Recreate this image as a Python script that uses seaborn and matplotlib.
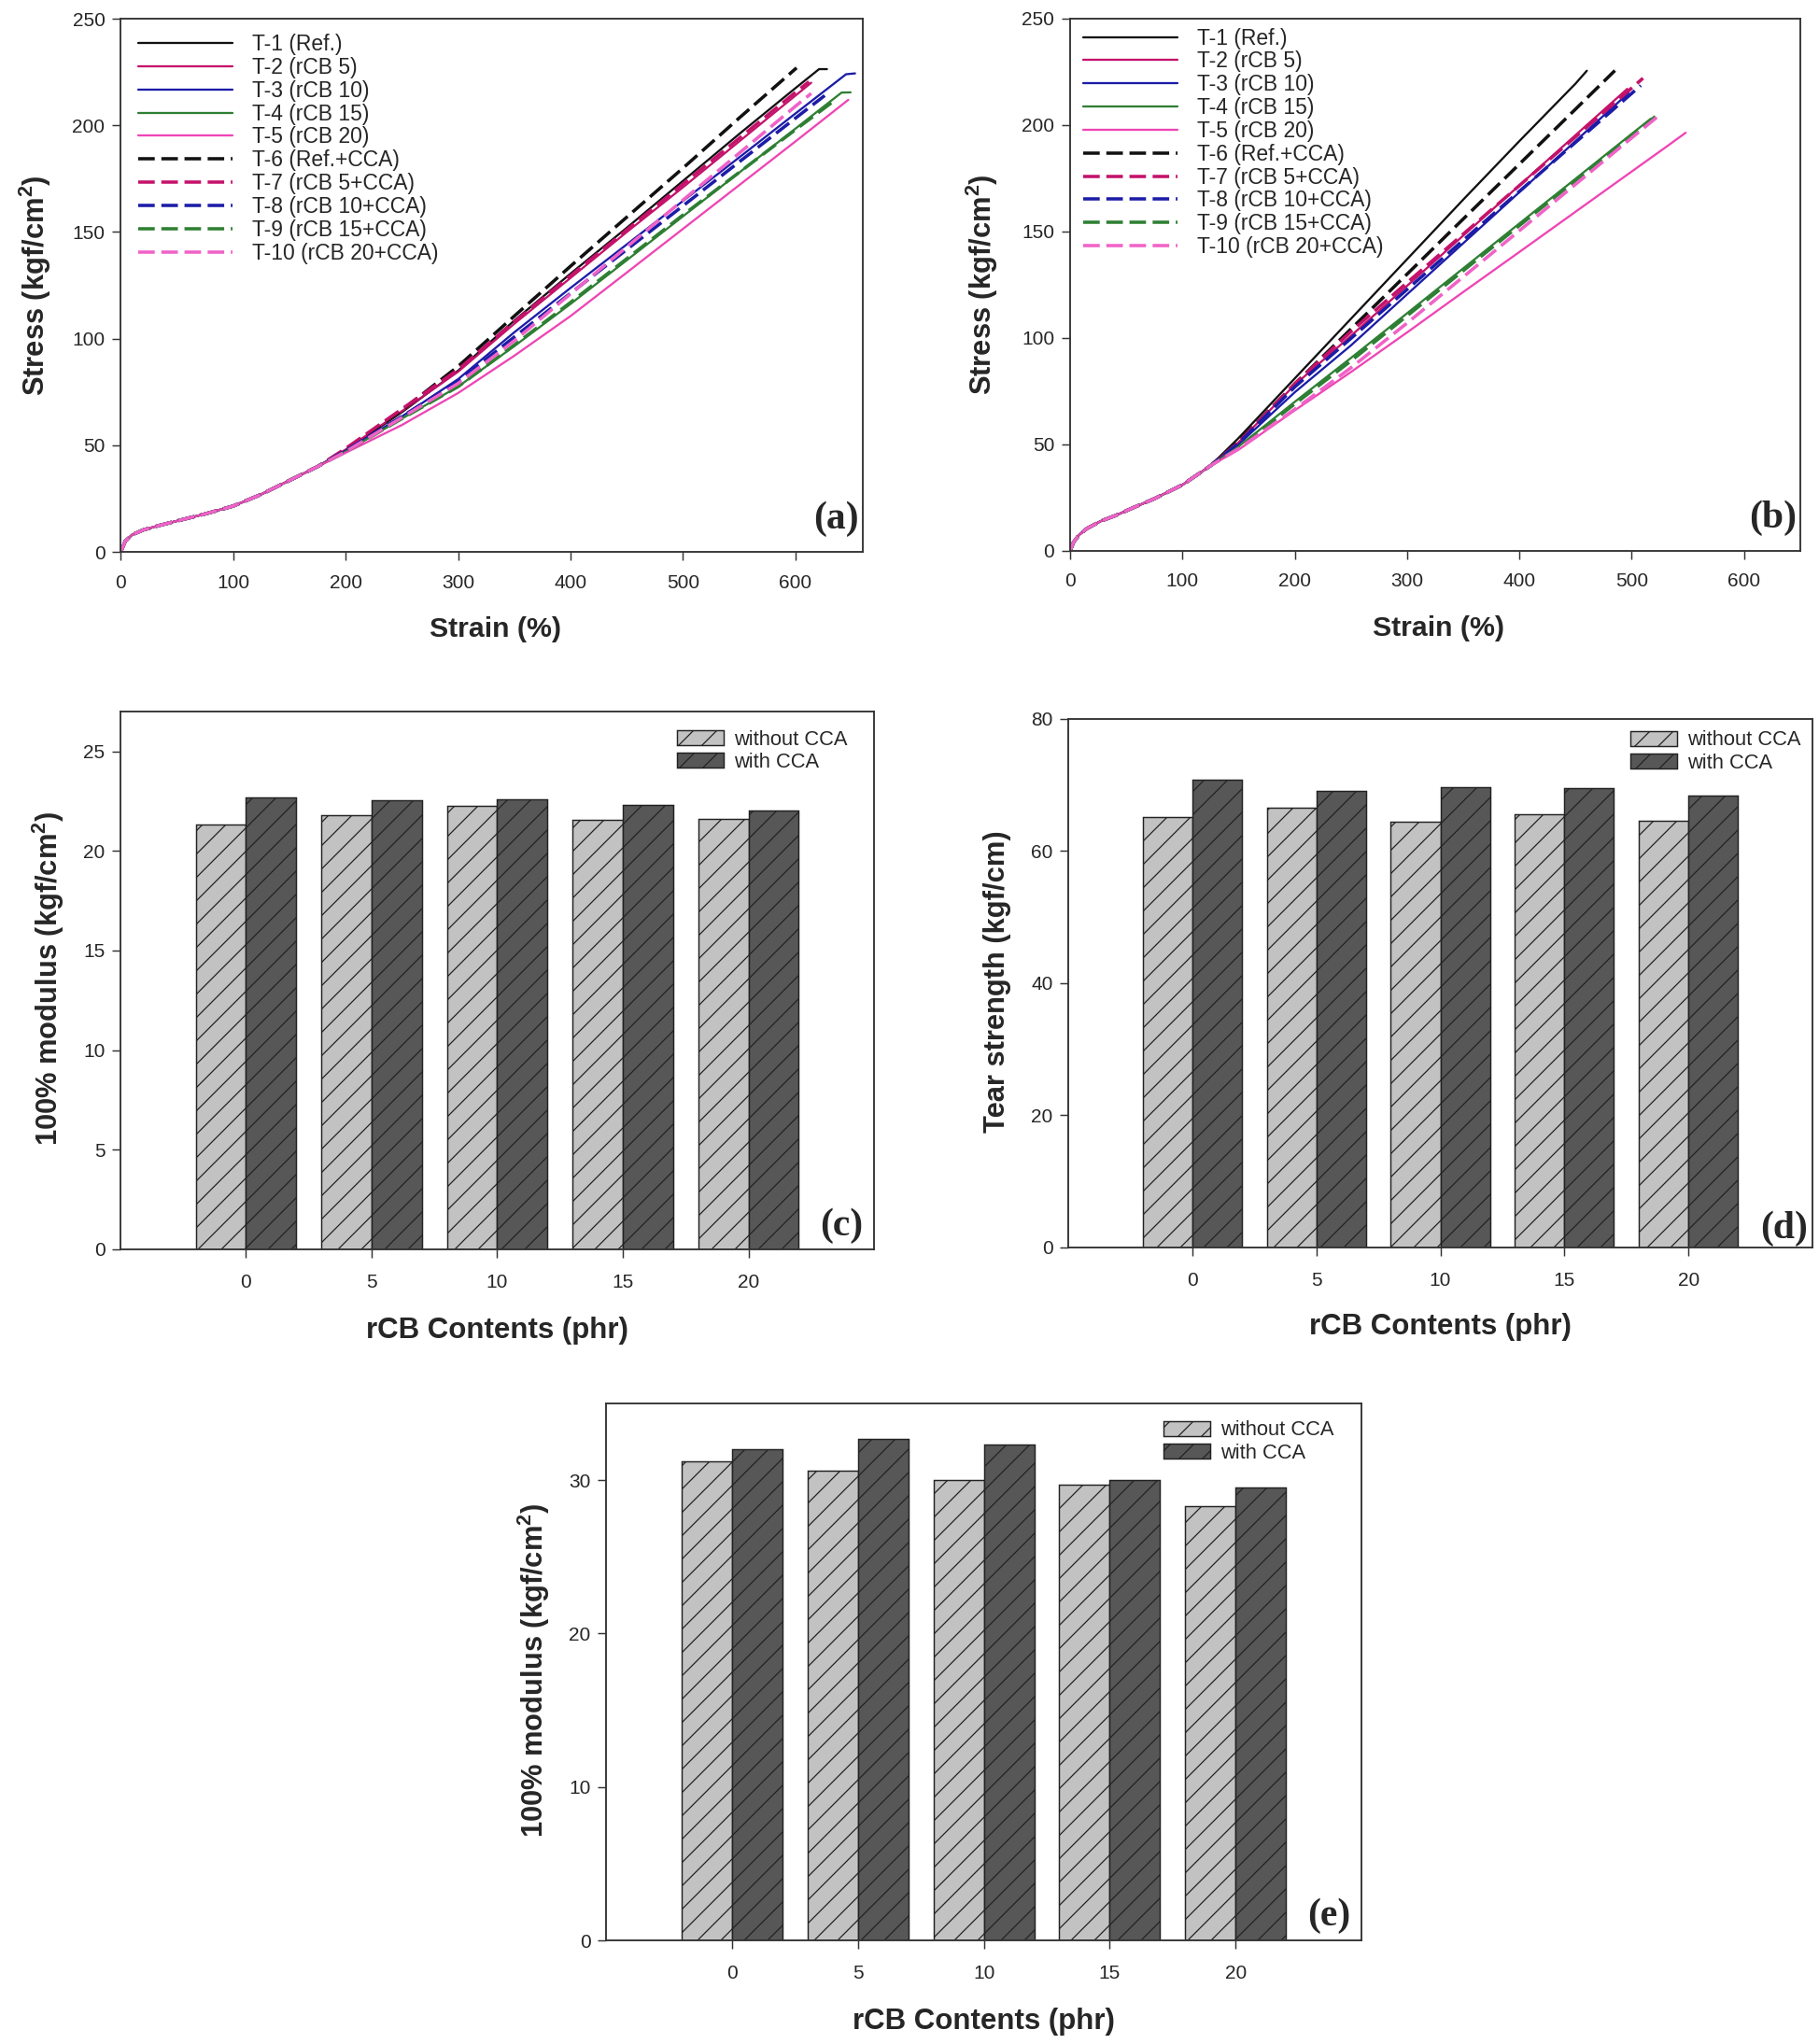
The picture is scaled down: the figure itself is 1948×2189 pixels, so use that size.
import numpy as np
import pandas as pd
import seaborn as sns
import matplotlib.pyplot as plt
from matplotlib.patches import Patch

# ---------------- data: stress-strain curves (a) ----------------
a_base_strain = [0, 4, 10, 20, 35, 50, 75, 100, 125, 150, 175]
a_base_stress = [0, 5, 8, 10.3, 12.5, 14.5, 17.8, 21.5, 27, 33.5, 40]

a_t1_strain = [200, 250, 300, 350, 400, 450, 500, 550, 600, 621, 628]
a_t1_stress = [47.5, 65.5, 85, 108.5, 130.5, 152, 174, 196, 217.5, 226.4, 226.4]
a_t2_strain = [200, 250, 300, 350, 400, 450, 500, 550, 600, 614]
a_t2_stress = [48, 66, 84.5, 107, 128.5, 150, 171, 192.5, 214, 220]
a_t3_strain = [200, 250, 300, 350, 400, 450, 500, 550, 600, 645, 653]
a_t3_stress = [47.5, 63.5, 81, 103, 123.8, 144.2, 164.6, 185, 205.6, 224, 224.4]
a_t4_strain = [200, 250, 300, 350, 400, 450, 500, 550, 600, 641, 649]
a_t4_stress = [47, 62.5, 77.5, 96.5, 116.3, 136.8, 157.4, 177.9, 198.5, 215.4, 215.5]
a_t5_strain = [200, 250, 300, 350, 400, 450, 500, 550, 600, 647]
a_t5_stress = [46.5, 59.5, 74.5, 92, 110.6, 131, 151.5, 172, 192.5, 212]
a_t6_strain = [200, 250, 300, 350, 400, 450, 500, 550, 601]
a_t6_stress = [48, 66.5, 87, 110.6, 134, 157, 180, 203.5, 227]
a_t7_strain = [200, 250, 300, 350, 400, 450, 500, 550, 600, 612]
a_t7_stress = [48.5, 67, 85.5, 108, 129.5, 151, 172.5, 194, 215.5, 220.5]
a_t8_strain = [200, 250, 300, 350, 400, 450, 500, 550, 600, 626]
a_t8_stress = [47.5, 63.5, 80, 100.8, 121.3, 141.8, 162.3, 182.9, 203.4, 214]
a_t9_strain = [200, 250, 300, 350, 400, 450, 500, 550, 600, 633]
a_t9_stress = [47, 62.5, 77.5, 97, 117, 137.5, 158, 178, 198, 211]
a_t10_strain = [200, 250, 300, 350, 400, 450, 500, 550, 600, 614]
a_t10_stress = [47, 63, 79, 99, 121, 143, 165, 187, 209, 215]

# ---------------- data: stress-strain curves (b) ----------------
b_base_strain = [0, 3, 8, 15, 27, 40, 55, 75, 100, 125]
b_base_stress = [0, 4, 7.5, 10.5, 13.9, 16.5, 20, 24.5, 31, 40]

b_t1_strain = [150, 200, 250, 300, 350, 400, 450, 460]
b_t1_stress = [53, 81, 109, 137, 165, 192.5, 219.5, 225.5]
b_t2_strain = [150, 200, 250, 300, 350, 400, 450, 496]
b_t2_stress = [51, 78, 101, 124.5, 148.1, 171.7, 195.3, 217]
b_t3_strain = [150, 200, 250, 300, 350, 400, 450, 497]
b_t3_stress = [50, 74.5, 96.5, 120.5, 144.5, 168.5, 192.5, 215]
b_t4_strain = [150, 200, 250, 300, 350, 400, 450, 500, 517]
b_t4_stress = [49, 70, 90.6, 111.6, 132.7, 153.8, 174.8, 195.9, 203]
b_t5_strain = [150, 200, 250, 300, 350, 400, 450, 500, 530, 548]
b_t5_stress = [47.5, 66, 84, 102.6, 121.6, 140.4, 159.3, 178.2, 189.5, 196.4]
b_t6_strain = [150, 200, 250, 300, 350, 400, 450, 485]
b_t6_stress = [51.5, 78.4, 104.2, 130, 155.9, 181.7, 207.5, 225.6]
b_t7_strain = [150, 200, 250, 300, 350, 400, 450, 500, 510]
b_t7_stress = [51, 78.5, 103, 126, 148.8, 171.6, 194.5, 217.4, 222]
b_t8_strain = [150, 200, 250, 300, 350, 400, 450, 500, 508]
b_t8_stress = [50.5, 77, 99.8, 122.8, 145.9, 168.9, 191.9, 214.9, 218.6]
b_t9_strain = [150, 200, 250, 300, 350, 400, 450, 500, 521]
b_t9_stress = [48.5, 69, 89.2, 110.4, 131.6, 152.8, 174, 195.1, 204]
b_t10_strain = [150, 200, 250, 300, 350, 400, 450, 500, 525]
b_t10_stress = [48, 66.5, 86, 107, 128.7, 150.4, 172.2, 194, 204.8]

labels = ['T-1 (Ref.)', 'T-2 (rCB 5)', 'T-3 (rCB 10)', 'T-4 (rCB 15)', 'T-5 (rCB 20)',
          'T-6 (Ref.+CCA)', 'T-7 (rCB 5+CCA)', 'T-8 (rCB 10+CCA)', 'T-9 (rCB 15+CCA)',
          'T-10 (rCB 20+CCA)']

# ---------------- data: bar charts ----------------
contents = ['0', '5', '10', '15', '20']
groups = ['without CCA', 'with CCA']
c_without = [21.35, 21.8, 22.25, 21.55, 21.6]
c_with = [22.7, 22.55, 22.6, 22.3, 22.05]
d_without = [65.2, 66.5, 64.5, 65.5, 64.6]
d_with = [70.8, 69.1, 69.7, 69.5, 68.4]
e_without = [31.2, 30.6, 30.0, 29.7, 28.3]
e_with = [32.0, 32.7, 32.35, 30.0, 29.5]

# ---------------- style ----------------
sns.set_style("ticks")
plt.rcParams['font.family'] = ['Liberation Sans', 'DejaVu Sans']
plt.rcParams['mathtext.fontset'] = 'custom'
plt.rcParams['mathtext.rm'] = 'Liberation Sans'
plt.rcParams['mathtext.bf'] = 'Liberation Sans:bold'
plt.rcParams['axes.linewidth'] = 0.9
plt.rcParams['axes.edgecolor'] = '#333333'
plt.rcParams['hatch.linewidth'] = 0.6

colors = ['#111111', '#C4126A', '#1C1CA8', '#2E7F33', '#EE45B5',
          '#111111', '#C4126A', '#1C1CA8', '#2E7F33', '#F062C8']
dash = (0, (5.0, 2.0))
light = '#C2C2C2'
dark = '#575757'

DPI = 150
fig = plt.figure(figsize=(1948 / DPI, 2189 / DPI), dpi=DPI)
fig.patch.set_facecolor('white')

ax_a = fig.add_axes([0.0664, 0.7300, 0.4080, 0.2608])
ax_b = fig.add_axes([0.5883, 0.7305, 0.4014, 0.2604])
ax_c = fig.add_axes([0.0662, 0.3888, 0.4143, 0.2631])
ax_d = fig.add_axes([0.5873, 0.3897, 0.4091, 0.2586])
ax_e = fig.add_axes([0.3332, 0.0507, 0.4153, 0.2627])


def style_axes(ax, xpad, ypad):
    ax.tick_params(direction='out', length=4.3, width=0.7, labelsize=10, color='#333333')
    ax.tick_params(axis='x', pad=xpad)
    ax.tick_params(axis='y', pad=ypad)
    for s in ax.spines.values():
        s.set_visible(True)


def draw_curves(ax, base_x, base_y, curves, xmax, leg_xy, letter, ylab_x):
    for i, (xs, ys) in enumerate(curves):
        df = pd.DataFrame({'strain': base_x + xs, 'stress': base_y + ys})
        if i < 5:
            sns.lineplot(data=df, x='strain', y='stress', ax=ax, color=colors[i],
                         lw=1.1, label=labels[i], estimator=None, sort=False)
        else:
            sns.lineplot(data=df, x='strain', y='stress', ax=ax, color=colors[i],
                         lw=1.7, linestyle=dash, label=labels[i], estimator=None, sort=False)
    ax.set_xlim(0, xmax)
    ax.set_ylim(0, 250)
    ax.set_xticks(np.arange(0, 601, 100))
    ax.set_yticks(np.arange(0, 251, 50))
    style_axes(ax, 7, 3.8)
    ax.set_xlabel('Strain (%)', fontsize=14.5, fontweight='bold')
    ax.set_ylabel(r'Stress (kgf/cm$^{\mathbf{2}}$)', fontsize=14.8, fontweight='bold')
    ax.xaxis.set_label_coords(0.505, -0.145)
    ax.yaxis.set_label_coords(ylab_x, 0.5)
    ax.xaxis.label.set_va('center')
    ax.yaxis.label.set_va('center')
    ax.legend(loc='upper left', bbox_to_anchor=leg_xy, frameon=False, fontsize=11,
              borderpad=0, borderaxespad=0, handlelength=4.4, handletextpad=0.92,
              labelspacing=0.08)
    ax.text(0.995, 0.061, letter, transform=ax.transAxes, ha='right', va='center',
            fontsize=20, fontweight='bold', family='Liberation Serif')


def draw_bars(ax, without, withc, ylim, yticks, ylabel, leg_xy, letter, letter_xy):
    df = pd.DataFrame({'rCB': contents + contents,
                       'value': without + withc,
                       'group': [groups[0]] * 5 + [groups[1]] * 5})
    sns.barplot(data=df, x='rCB', y='value', hue='group', order=contents,
                hue_order=groups, palette=[light, dark], saturation=1, width=0.8,
                edgecolor='#222222', linewidth=0.7, ax=ax, legend=False)
    for p in ax.patches:
        p.set_hatch('//')
    ax.set_xlim(-1, 5)
    ax.set_ylim(*ylim)
    ax.set_yticks(yticks)
    style_axes(ax, 8, 3.6)
    ax.set_xlabel('rCB Contents (phr)', fontsize=15, fontweight='bold')
    ax.set_ylabel(ylabel, fontsize=14.8, fontweight='bold')
    ax.xaxis.set_label_coords(0.5, -0.151)
    ax.yaxis.set_label_coords(-0.095, 0.503)
    ax.xaxis.label.set_va('center')
    ax.yaxis.label.set_va('center')
    handles = [Patch(facecolor=light, edgecolor='#222222', hatch='//', lw=0.7, label=groups[0]),
               Patch(facecolor=dark, edgecolor='#222222', hatch='//', lw=0.7, label=groups[1])]
    ax.legend(handles=handles, loc='upper left', bbox_to_anchor=leg_xy, frameon=False,
              fontsize=10.5, borderpad=0, borderaxespad=0, handlelength=2.3,
              handleheight=0.75, handletextpad=0.5, labelspacing=0.15)
    ax.text(letter_xy[0], letter_xy[1], letter, transform=ax.transAxes, ha='right',
            va='center', fontsize=20, fontweight='bold', family='Liberation Serif')


curves_a = [(a_t1_strain, a_t1_stress), (a_t2_strain, a_t2_stress), (a_t3_strain, a_t3_stress),
            (a_t4_strain, a_t4_stress), (a_t5_strain, a_t5_stress), (a_t6_strain, a_t6_stress),
            (a_t7_strain, a_t7_stress), (a_t8_strain, a_t8_stress), (a_t9_strain, a_t9_stress),
            (a_t10_strain, a_t10_stress)]
curves_b = [(b_t1_strain, b_t1_stress), (b_t2_strain, b_t2_stress), (b_t3_strain, b_t3_stress),
            (b_t4_strain, b_t4_stress), (b_t5_strain, b_t5_stress), (b_t6_strain, b_t6_stress),
            (b_t7_strain, b_t7_stress), (b_t8_strain, b_t8_stress), (b_t9_strain, b_t9_stress),
            (b_t10_strain, b_t10_stress)]

draw_curves(ax_a, a_base_strain, a_base_stress, curves_a, 660, (0.0234, 0.972), '(a)', -0.1157)
draw_curves(ax_b, b_base_strain, b_base_stress, curves_b, 650, (0.018, 0.983), '(b)', -0.120)

draw_bars(ax_c, c_without, c_with, (0, 27), np.arange(0, 26, 5),
          r'100% modulus (kgf/cm$^{\mathbf{2}}$)', (0.7385, 0.966), '(c)', (0.986, 0.043))
draw_bars(ax_d, d_without, d_with, (0, 80), np.arange(0, 81, 20),
          'Tear strength (kgf/cm)', (0.755, 0.978), '(d)', (0.994, 0.035))
draw_bars(ax_e, e_without, e_with, (0, 35), np.arange(0, 31, 10),
          r'100% modulus (kgf/cm$^{\mathbf{2}}$)', (0.738, 0.968), '(e)', (0.985, 0.045))

fig.savefig('out.png', dpi=DPI, facecolor='white')
